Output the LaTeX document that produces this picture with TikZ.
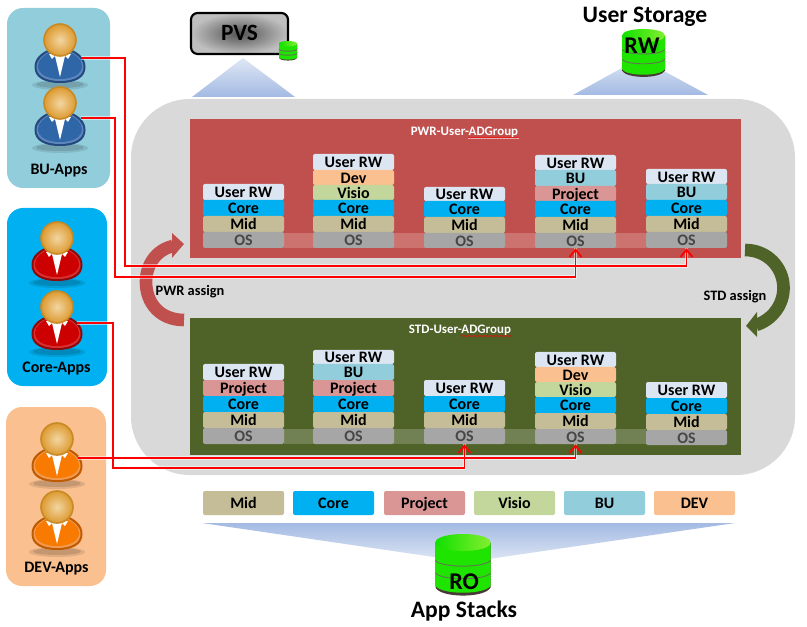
\documentclass[tikz,border=0pt]{standalone}
\usepackage{fontspec}
\setmainfont{Carlito}
\usetikzlibrary{arrows.meta,decorations.pathmorphing}
\definecolor{cMid}{HTML}{C4BD97}
\definecolor{cCore}{HTML}{00B0F0}
\definecolor{cProj}{HTML}{D99694}
\definecolor{cVisio}{HTML}{C3D69B}
\definecolor{cBU}{HTML}{92CDDC}
\definecolor{cDev}{HTML}{FAC090}
\definecolor{cUser}{HTML}{DCE6F2}
\definecolor{cOS}{HTML}{A6A6A6}
\definecolor{cRed}{HTML}{C0504D}
\definecolor{cGreen}{HTML}{4F6228}
\definecolor{cGrey}{HTML}{D9D9D9}
\definecolor{triA}{HTML}{DFE7F4}
\definecolor{triB}{HTML}{A3BAE3}
\definecolor{headIn}{HTML}{F2D6A2}
\definecolor{headOut}{HTML}{DD9A30}
\definecolor{headRim}{HTML}{C88A25}
\definecolor{cylSide}{HTML}{1FE400}
\definecolor{cylMid}{HTML}{8CFF3A}
\definecolor{cylTopL}{HTML}{10E000}
\definecolor{cylTopR}{HTML}{84EE30}
\definecolor{cylBand}{HTML}{5E7A50}
\definecolor{cylBase}{HTML}{4A3A36}
\tikzset{
  seg/.style={fill=#1,rounded corners=1.5pt,inner sep=0pt,minimum width=60.75pt,
    font=\fontsize{12}{12}\selectfont\bfseries,text=black,text height=9.3pt,text depth=0.5pt},
  ostext/.style={text=black!72},
  panel/.style={fill=#1,rounded corners=12pt},
  panellabel/.style={font=\fontsize{12}{12}\selectfont\bfseries},
  group/.style={fill=#1},
  grouptitle/.style={font=\fontsize{9.7}{10}\selectfont\bfseries,text=white},
  spell/.style={draw=red,line width=0.35pt,decorate,decoration={snake,amplitude=0.45pt,segment length=2.4pt}},
  assign/.style={font=\fontsize{10.8}{12}\selectfont\bfseries},
  bigtitle/.style={font=\fontsize{17.7}{18}\selectfont\bfseries},
  tri/.style={top color=#1,bottom color=triB},
  triinv/.style={top color=triB,bottom color=triA},
  halo/.style={draw=white,draw opacity=.5,line width=2.8pt},
  link/.style={draw=red,line width=1.35pt,-{Straight Barb[length=5.5pt,width=9pt,line width=1.35pt]}},
}
% #1 name, #2 left, #3 top, #4 bottom, #5 colour, #6 text
\newcommand\seg[6]{%
  \pgfmathsetlengthmacro\segh{(#4-#3)*.75}%
  \node[seg=#5,minimum height=\segh] (#1) at ({#2+40.5},{(#3+#4)/2}) {#6};}
\newcommand\segos[5]{%
  \pgfmathsetlengthmacro\segh{(#4-#3)*.75}%
  \node[seg=#5,ostext,minimum height=\segh] (#1) at ({#2+40.5},{(#3+#4)/2}) {OS};}
% #1 x, #2 y head centre, #3 rim, #4 fill, #5 light
\newcommand\person[5]{%
\begin{scope}[shift={(#1,#2)}]
  \fill[black,opacity=.10] (0,45) ellipse [x radius=28,y radius=5];
  \fill[black,opacity=.12] (0,44.5) ellipse [x radius=24,y radius=3.5];
  \fill[#3] (-25.5,27) .. controls (-25.5,17) and (-17,12) .. (-10,9) -- (10,9)
     .. controls (17,12) and (25.5,17) .. (25.5,27)
     .. controls (25.5,38) and (15,43) .. (0,43)
     .. controls (-15,43) and (-25.5,38) .. (-25.5,27) -- cycle;
  \fill[#5] (-23.5,27) .. controls (-23.5,19) and (-16,14) .. (-10,11) -- (10,11)
     .. controls (16,14) and (23.5,19) .. (23.5,27)
     .. controls (23.5,36) and (14,41) .. (0,41)
     .. controls (-14,41) and (-23.5,36) .. (-23.5,27) -- cycle;
  \fill[#4] (-22,26) .. controls (-22,19) and (-15,15) .. (-10,12) -- (10,12)
     .. controls (15,15) and (22,19) .. (22,26)
     .. controls (22,34) and (13,39) .. (0,39)
     .. controls (-13,39) and (-22,34) .. (-22,26) -- cycle;
  \fill[white] (-11,14) -- (-8,19) -- (-5,16) -- (0,37) -- (5,16) -- (8,19) -- (11,14) -- cycle;
  \shade[inner color=headIn,outer color=headOut,draw=headRim,line width=1.2pt]
     (0,0) circle [radius=16];
\end{scope}}
% #1 centre x, #2 top, #3 half width, #4 height
\newcommand\cyl[4]{%
\begin{scope}[shift={(#1,#2)},xscale=#3,yscale=#4]
  \fill[cylBase] (-1,.135) -- (-1,.85) .. controls (-.8,1.02) and (.8,1.02) .. (1,.85) -- (1,.135) -- cycle;
  \shade[left color=cylSide,middle color=cylMid,right color=cylSide]
    (-1,.135) -- (-1,.82) .. controls (-.8,.97) and (.8,.97) .. (1,.82) -- (1,.135)
    .. controls (.8,.29) and (-.8,.29) .. (-1,.135) -- cycle;
  \shade[left color=cylTopL,right color=cylTopR]
    (-1,.135) .. controls (-1,-.045) and (1,-.045) .. (1,.135)
    .. controls (1,.315) and (-1,.315) .. (-1,.135) -- cycle;
  \draw[cylBand,line width=.7pt] (-1,.42) .. controls (-.8,.54) and (.8,.54) .. (1,.42);
  \draw[cylBand,line width=.7pt] (-1,.62) .. controls (-.8,.74) and (.8,.74) .. (1,.62);
\end{scope}}
\begin{document}
\begin{tikzpicture}[x=.75pt,y=-.75pt]
\useasboundingbox (0,0) rectangle (807,627);
\fill[white] (0,0) rectangle (807,627);

% triangles
\path[tri=triA,shade] (192,97) -- (243,58) -- (295,97) -- cycle;
\path[tri=triA,shade] (573,95) -- (640,58) -- (708,95) -- cycle;
\path[triinv,shade] (202,523) -- (735,523) -- (468,562) -- cycle;

% PVS
\shade[inner color=black!68,outer color=black!25,draw=black,line width=1.6pt,rounded corners=5pt]
  (191,13) rectangle (288,54);
\node[font=\fontsize{17.5}{18}\selectfont\bfseries] (pvs) at (239.5,32.5) {PVS};
\cyl{288}{41}{9}{20}

% User storage
\node[bigtitle] (userstorage) at (645,17) {User Storage};
\cyl{643.5}{29}{21.5}{49}
\node[font=\fontsize{18}{18}\selectfont\bfseries] (rw) at (642,46) {RW};

% main panel
\fill[cGrey,rounded corners=44pt] (131,99) rectangle (795,475);
\fill[group=cRed] (190,119) rectangle (741,258);
\fill[group=cGreen] (190,318) rectangle (741,455);
\fill[white,opacity=.2] (284,233) rectangle (646,248);
\fill[white,opacity=.2] (284,429) rectangle (646,444);

\node[grouptitle] (pwrtitle) at (464.5,132) {PWR-User-ADGroup};
\draw[draw=white,line width=0.5pt,opacity=.6] (468,138) -- (519,138);
\draw[spell] (468,137.5) -- (519,137.5);
\node[grouptitle] (stdtitle) at (460,330) {STD-User-ADGroup};
\draw[spell] (461,336) -- (512,336);

% PWR stacks
\seg{pa5}{203}{184}{200}{cUser}{User RW}
\seg{pa4}{203}{200}{216}{cCore}{Core}
\seg{pa3}{203}{216}{232}{cMid}{Mid}
\segos{pa1}{203}{232}{248}{cOS}

\seg{pb6}{313}{154}{170}{cUser}{User RW}
\seg{pb5}{313}{170}{185}{cDev}{Dev}
\seg{pb4}{313}{185}{200}{cVisio}{Visio}
\seg{pb3}{313}{200}{216}{cCore}{Core}
\seg{pb2}{313}{216}{232}{cMid}{Mid}
\segos{pb1}{313}{232}{248}{cOS}

\seg{pc4}{424}{187}{201}{cUser}{User RW}
\seg{pc3}{424}{201}{217}{cCore}{Core}
\seg{pc2}{424}{217}{233}{cMid}{Mid}
\segos{pc1}{424}{233}{248}{cOS}

\seg{pd6}{535}{155}{170}{cUser}{User RW}
\seg{pd5}{535}{170}{186}{cBU}{BU}
\seg{pd4}{535}{186}{201}{cProj}{Project}
\seg{pd3}{535}{201}{217}{cCore}{Core}
\seg{pd2}{535}{217}{233}{cMid}{Mid}
\segos{pd1}{535}{233}{248}{cOS}

\seg{pe5}{646}{169}{184}{cUser}{User RW}
\seg{pe4}{646}{184}{200}{cBU}{BU}
\seg{pe3}{646}{200}{216}{cCore}{Core}
\seg{pe2}{646}{216}{232}{cMid}{Mid}
\segos{pe1}{646}{232}{248}{cOS}

% STD stacks
\seg{sa5}{203}{364}{380}{cUser}{User RW}
\seg{sa4}{203}{380}{396}{cProj}{Project}
\seg{sa3}{203}{396}{412}{cCore}{Core}
\seg{sa2}{203}{412}{428}{cMid}{Mid}
\segos{sa1}{203}{428}{444}{cOS}

\seg{sb6}{313}{350}{364}{cUser}{User RW}
\seg{sb5}{313}{364}{380}{cBU}{BU}
\seg{sb4}{313}{380}{396}{cProj}{Project}
\seg{sb3}{313}{396}{412}{cCore}{Core}
\seg{sb2}{313}{412}{428}{cMid}{Mid}
\segos{sb1}{313}{428}{444}{cOS}

\seg{sc4}{424}{380}{396}{cUser}{User RW}
\seg{sc3}{424}{396}{412}{cCore}{Core}
\seg{sc2}{424}{412}{428}{cMid}{Mid}
\segos{sc1}{424}{428}{444}{cOS}

\seg{sd6}{535}{352}{367}{cUser}{User RW}
\seg{sd5}{535}{367}{382}{cDev}{Dev}
\seg{sd4}{535}{382}{397}{cVisio}{Visio}
\seg{sd3}{535}{397}{413}{cCore}{Core}
\seg{sd2}{535}{413}{429}{cMid}{Mid}
\segos{sd1}{535}{429}{444}{cOS}

\seg{se4}{646}{382}{398}{cUser}{User RW}
\seg{se3}{646}{398}{414}{cCore}{Core}
\seg{se2}{646}{414}{430}{cMid}{Mid}
\segos{se1}{646}{430}{445}{cOS}

% assign arrows
\draw[cRed,line width=9.5pt] (184,320) .. controls (160,320) and (146,303) .. (146,282)
   .. controls (146,265) and (156,250) .. (173,246);
\fill[cRed] (172,233) -- (184,244) -- (172,258) -- cycle;
\draw[cGreen,line width=9.5pt] (745,250) .. controls (767,250) and (783.5,267) .. (783.5,288)
   .. controls (783.5,305) and (772,320) .. (756,325);
\fill[cGreen] (757,312) -- (746,326) -- (757,337) -- cycle;
\node[assign] (pwrassign) at (190,292) {PWR assign};
\node[assign] (stdassign) at (735,296.5) {STD assign};

% left panels
\fill[panel=cBU] (7,8) rectangle (110,188);
\fill[panel=cCore] (7,208) rectangle (107,386);
\fill[panel=cDev] (6,407) rectangle (106,586);
\node[panellabel] (buapps) at (59,170.5) {BU-Apps};
\node[panellabel] (coreapps) at (56.5,368.5) {Core-Apps};
\node[panellabel] (devapps) at (56.5,568.5) {DEV-Apps};

\definecolor{bRim}{HTML}{24497F}\definecolor{bFill}{HTML}{2F66A8}\definecolor{bLight}{HTML}{5C86BC}
\definecolor{rRim}{HTML}{8E0A0A}\definecolor{rFill}{HTML}{CC0000}\definecolor{rLight}{HTML}{D83030}
\definecolor{oRim}{HTML}{C05A00}\definecolor{oFill}{HTML}{F87A00}\definecolor{oLight}{HTML}{F09A50}
\person{60}{40}{bRim}{bFill}{bLight}
\person{60}{103}{bRim}{bFill}{bLight}
\person{57}{238}{rRim}{rFill}{rLight}
\person{57}{307}{rRim}{rFill}{rLight}
\person{57}{439}{oRim}{oFill}{oLight}
\person{57}{507}{oRim}{oFill}{oLight}

% legend
\seg{lmid}{203}{491}{515}{cMid}{Mid}
\seg{lcore}{293}{491}{515}{cCore}{Core}
\seg{lproj}{384}{491}{515}{cProj}{Project}
\seg{lvisio}{474}{491}{515}{cVisio}{Visio}
\seg{lbu}{564}{491}{515}{cBU}{BU}
\seg{ldev}{654}{491}{515}{cDev}{DEV}

% App stacks
\cyl{463}{534}{27.5}{63}
\node[font=\fontsize{18}{18}\selectfont\bfseries] (ro) at (464,582) {RO};
\node[bigtitle] (appstacks) at (464,611) {App Stacks};

% connectors
\coordinate (bu1) at (81,58);
\coordinate (bu2) at (81,118);
\coordinate (core2) at (77,323);
\coordinate (dev1) at (78,458);
\coordinate (c1) at (125,266);
\coordinate (c2) at (115,277);
\coordinate (c3) at (113,468);
\draw[halo] (bu1) -| (c1) -| (pe1.south);
\draw[halo] (bu2) -| (c2) -| (pd1.south);
\draw[halo] (core2) -| (c3) -| (sc1.south);
\draw[halo] (dev1) -| (sd1.south);
\draw[link] (bu1) -| (c1) -| (pe1.south);
\draw[link] (bu2) -| (c2) -| (pd1.south);
\draw[link] (core2) -| (c3) -| (sc1.south);
\draw[link] (dev1) -| (sd1.south);
\end{tikzpicture}
\end{document}
